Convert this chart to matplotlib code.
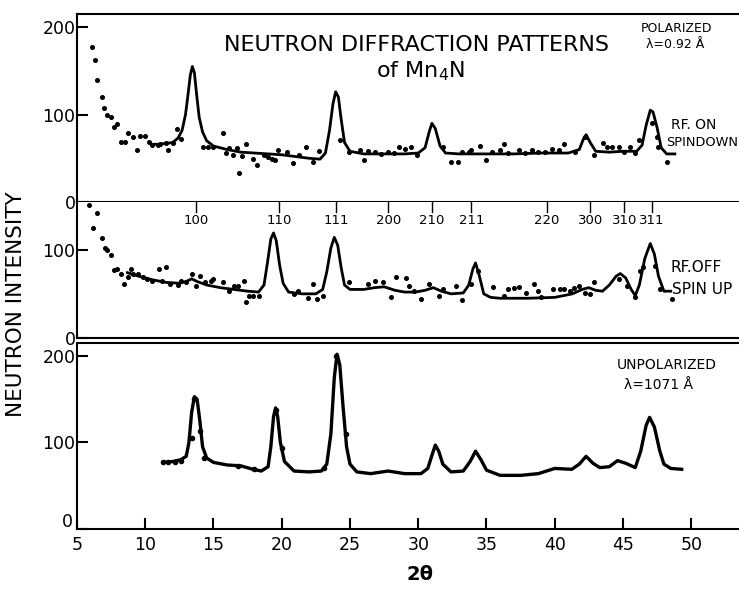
import matplotlib
matplotlib.use('Agg')
from matplotlib import pyplot as plt

# ---- data (2-theta in degrees, intensity in counts) ----

# top panel: polarized, RF on, spin down
ON_CURVE_X = [10.5, 11.0, 11.5, 12.0, 12.4, 12.7, 12.95, 13.15, 13.3, 13.45,
              13.6, 13.75, 13.95, 14.2, 14.5, 15.0, 16.0, 17.0, 18.0, 19.0,
              20.0, 21.0, 22.0, 22.8, 23.2, 23.5, 23.75, 23.95, 24.15, 24.35,
              24.6, 25.0, 26.0, 27.0, 28.0, 29.0, 30.0, 30.5, 30.8, 31.0,
              31.25, 31.6, 32.0, 33.0, 35.0, 37.0, 39.0, 41.0, 41.8, 42.1,
              42.3, 42.6, 43.0, 44.0, 45.0, 46.0, 46.4, 46.7, 47.0, 47.2,
              47.5, 47.8, 48.2, 48.8]
ON_CURVE_Y = [66, 66, 67, 68, 73, 82, 100, 125, 145, 155,
              148, 125, 97, 80, 70, 64, 60, 57, 56, 55,
              54, 52, 50, 49, 56, 82, 112, 126, 120, 95,
              68, 58, 55, 55, 55, 55, 56, 62, 80, 90,
              84, 64, 56, 55, 55, 55, 56, 56, 60, 72,
              77, 68, 58, 57, 58, 58, 65, 88, 105, 103,
              85, 62, 55, 55]
ON_PTS_X = [6.1, 6.3, 6.5, 6.8, 7.0, 7.2, 7.5, 7.7, 7.9, 8.2, 8.5, 8.75, 9.1,
            9.4, 9.6, 10.0, 10.3, 10.5, 10.9, 11.1, 11.5, 11.7, 12.0, 12.3,
            12.6, 14.2, 14.6, 15.0, 15.7, 15.9, 16.1, 16.4, 16.7, 16.9, 17.1,
            17.4, 17.9, 18.2, 18.7, 19.0, 19.3, 19.5, 19.7, 20.4, 20.8, 21.25,
            21.8, 22.3, 22.7, 24.3, 24.9, 25.7, 26.0, 26.3, 26.8, 27.3, 27.8,
            28.2, 28.6, 29.0, 29.5, 29.9, 31.8, 32.4, 32.9, 33.2, 33.7, 33.9,
            34.5, 35.0, 35.4, 36.0, 36.3, 36.6, 37.4, 37.8, 38.3, 38.8, 39.3,
            39.8, 40.3, 40.7, 41.5, 42.2, 42.9, 43.5, 43.8, 44.2, 44.7, 45.1,
            45.5, 45.9, 46.2, 47.1, 47.5, 47.6, 48.2]
ON_PTS_Y = [177, 162, 139, 120, 108, 99, 97, 86, 89, 69, 69, 79, 74,
            59, 75, 75, 69, 65, 65, 66, 67, 60, 67, 84,
            72, 63, 63, 63, 79, 56, 62, 54, 62, 33, 53,
            66, 49, 42, 54, 51, 49, 48, 60, 57, 45, 54,
            63, 46, 58, 71, 57, 60, 48, 58, 57, 55, 57,
            56, 63, 61, 63, 54, 63, 46, 46, 57, 57, 59,
            64, 48, 57, 59, 66, 56, 59, 56, 59, 57, 57,
            61, 59, 66, 57, 74, 54, 67, 63, 63, 63, 57,
            63, 56, 71, 90, 74, 63, 46]

# middle panel: polarized, RF off, spin up
OFF_CURVE_X = [8.7, 9.5, 10.5, 11.5, 12.5, 13.0, 13.4, 13.8, 14.5, 15.5,
               16.5, 17.5, 18.3, 18.7, 18.95, 19.2, 19.4, 19.6, 19.85, 20.1,
               20.5, 21.5, 22.5, 23.0, 23.3, 23.6, 23.85, 24.1, 24.35, 24.6,
               25.0, 26.0, 26.8, 27.5, 28.3, 29.0, 29.8, 30.5, 31.1, 31.7,
               32.4, 33.3, 33.7, 34.0, 34.2, 34.45, 34.8, 35.3, 36.0, 38.0,
               40.0, 41.3, 42.0, 42.5, 43.0, 43.5, 44.0, 44.5, 44.8, 45.2,
               45.6, 45.9, 46.2, 46.6, 47.0, 47.3, 47.6, 48.0, 48.5]
OFF_CURVE_Y = [74, 70, 66, 63, 62, 64, 67, 64, 60, 57,
               55, 53, 52, 60, 85, 112, 119, 110, 82, 62,
               52, 50, 50, 55, 75, 102, 114, 105, 80, 60,
               55, 55, 57, 58, 54, 52, 52, 54, 57, 53,
               50, 51, 60, 78, 85, 72, 50, 46, 45, 45,
               46, 50, 55, 57, 54, 53, 60, 70, 73, 68,
               55, 48, 60, 90, 107, 95, 70, 53, 53]
OFF_PTS_X = [5.9, 6.2, 6.5, 6.8, 7.05, 7.2, 7.5, 7.7, 7.9, 8.2, 8.45, 8.75,
             8.97, 9.1, 9.5, 9.8, 10.1, 10.5, 11.0, 11.25, 11.5, 11.8, 12.4,
             12.6, 13.0, 13.4, 13.7, 14.0, 14.4, 14.8, 15.0, 15.7, 16.1, 16.5,
             16.8, 17.2, 17.4, 17.6, 17.9, 18.3, 20.9, 21.2, 21.9, 22.3, 22.6,
             23.0, 24.9, 26.3, 26.8, 27.4, 28.0, 28.4, 29.1, 29.3, 29.7, 30.2,
             30.8, 31.5, 31.8, 32.8, 33.2, 33.9, 34.4, 35.5, 36.25, 36.6, 37.0,
             37.35, 37.9, 38.5, 38.8, 39.0, 39.9, 40.4, 40.7, 41.1, 41.4, 41.8,
             42.2, 42.6, 42.9, 44.7, 45.3, 45.9, 46.25, 46.5, 47.35, 47.7, 48.6]
OFF_PTS_Y = [151, 125, 141, 113, 102, 100, 94, 77, 78, 73, 61, 69,
             78, 73, 72, 69, 67, 65, 78, 65, 80, 61, 60,
             65, 63, 72, 59, 70, 63, 65, 67, 63, 53, 59,
             59, 64, 41, 47, 48, 47, 50, 53, 45, 61, 44,
             48, 63, 61, 65, 63, 46, 69, 68, 59, 53, 44,
             61, 48, 56, 59, 43, 61, 76, 58, 48, 56, 57,
             58, 51, 61, 53, 46, 55, 55, 55, 53, 57, 59,
             51, 50, 63, 67, 59, 46, 76, 80, 82, 56, 44]

# bottom panel: unpolarized
UN_CURVE_X = [11.3, 12.0, 12.6, 13.0, 13.2, 13.4, 13.6, 13.8, 14.0, 14.2,
              14.5, 15.0, 16.0, 17.0, 17.9, 18.5, 19.0, 19.2, 19.4, 19.55,
              19.7, 19.9, 20.2, 20.9, 22.0, 22.9, 23.3, 23.6, 23.85, 24.05,
              24.25, 24.5, 24.75, 25.0, 25.5, 26.5, 27.8, 29.0, 30.2, 30.7,
              31.0, 31.25, 31.5, 31.8, 32.4, 33.3, 33.8, 34.2, 34.6, 35.0,
              36.0, 37.5, 38.8, 40.0, 41.25, 41.8, 42.3, 42.8, 43.3, 44.0,
              44.6, 45.2, 45.9, 46.3, 46.7, 46.95, 47.3, 47.7, 48.0, 48.5,
              49.3]
UN_CURVE_Y = [77, 78, 80, 84, 100, 135, 153, 150, 125, 95,
              82, 77, 74, 73, 69, 67, 72, 95, 130, 140,
              130, 100, 78, 67, 66, 67, 75, 110, 175, 202,
              190, 140, 95, 75, 66, 64, 67, 64, 64, 70,
              85, 97, 90, 75, 66, 67, 78, 90, 80, 68,
              62, 62, 64, 70, 69, 75, 84, 76, 71, 72,
              79, 76, 71, 90, 120, 129, 118, 90, 75, 70,
              69]
UN_PTS_X = [11.3, 11.7, 12.2, 12.6, 13.45, 13.6, 14.0, 14.3, 16.8, 18.0,
            19.6, 20.0, 23.1, 24.0, 24.7]
UN_PTS_Y = [77, 78, 78, 79, 105, 150, 113, 82, 73, 69,
            138, 94, 71, 200, 110]

HKL_LABELS = ['100', '110', '111', '200', '210', '211', '220', '300', '310', '311']
HKL_POS = [13.7, 19.8, 24.0, 27.8, 31.0, 33.9, 39.4, 42.6, 45.1, 47.1]

X_TICKS = [5, 10, 15, 20, 25, 30, 35, 40, 45, 50]


def style_axes(ax, ylim, yticks):
    ax.set_xlim(5, 53.5)
    ax.set_ylim(*ylim)
    ax.set_yticks(yticks)
    ax.spines['right'].set_visible(False)
    for s in ax.spines.values():
        s.set_linewidth(1.5)
    ax.tick_params(direction='in', length=8, width=1.5, labelsize=12.5)
    ax.tick_params(axis='y', pad=1)
    ax.tick_params(axis='x', pad=5)


def main():

    fig = plt.figure(figsize=(7.39, 5.92), dpi=100)
    W, H = 739.0, 592.0

    ax1 = fig.add_axes([77 / W, 1 - 202 / H, 1 - 77 / W, 188 / H])
    ax2 = fig.add_axes([77 / W, 1 - 338 / H, 1 - 77 / W, 136 / H])
    ax3 = fig.add_axes([77 / W, 1 - 529 / H, 1 - 77 / W, 186 / H])

    style_axes(ax1, (0, 215), [0, 100, 200])
    style_axes(ax2, (0, 154), [0, 100])
    style_axes(ax3, (0, 215), [0, 100, 200])

    for ax in (ax1, ax2):
        ax.set_xticks([])
    ax2.spines['top'].set_visible(False)
    ax3.set_xticks(X_TICKS)
    # the bottom "0" sits a little above its tick so it clears the "5"
    ax3.set_yticklabels(['', '100', '200'])
    ax3.text(-0.006, 0.035, '0', transform=ax3.transAxes, ha='right',
             va='center', fontsize=12.5)

    ax1.plot(ON_CURVE_X, ON_CURVE_Y, color='black', lw=2.0,
             solid_joinstyle='round')
    ax1.plot(ON_PTS_X, ON_PTS_Y, 'o', color='black', ms=2.6)

    ax2.plot(OFF_CURVE_X, OFF_CURVE_Y, color='black', lw=2.0,
             solid_joinstyle='round')
    ax2.plot(OFF_PTS_X, OFF_PTS_Y, 'o', color='black', ms=2.6)

    ax3.plot(UN_CURVE_X, UN_CURVE_Y, color='black', lw=2.4,
             solid_joinstyle='round')
    ax3.plot(UN_PTS_X, UN_PTS_Y, 'o', color='black', ms=3)

    # hkl markers hanging from the top of the middle panel
    trans = ax2.get_xaxis_transform()
    for lab, pos in zip(HKL_LABELS, HKL_POS):
        ax2.plot([pos, pos], [1.0, 0.93], color='black', lw=1.0,
                 transform=trans, clip_on=False)
        ax2.text(pos, 0.865, lab, transform=trans, ha='center', va='center',
                 fontsize=9.5)

    fig.text(416 / W, 1 - 45 / H, 'NEUTRON DIFFRACTION PATTERNS',
             ha='center', va='center', fontsize=16)
    fig.text(420 / W, 1 - 71 / H, 'of Mn$_4$N', ha='center', va='center',
             fontsize=16)
    fig.text(676 / W, 1 - 28 / H, 'POLARIZED', ha='center', va='center',
             fontsize=9)
    fig.text(675 / W, 1 - 45 / H, 'λ=0.92 Å', ha='center', va='center',
             fontsize=9)
    fig.text(671 / W, 1 - 125 / H, 'RF. ON', ha='left', va='center',
             fontsize=10)
    fig.text(666 / W, 1 - 143 / H, 'SPINDOWN', ha='left', va='center',
             fontsize=9.3)
    fig.text(671 / W, 1 - 268 / H, 'RF.OFF', ha='left', va='center',
             fontsize=11)
    fig.text(672 / W, 1 - 290 / H, 'SPIN UP', ha='left', va='center',
             fontsize=11)
    fig.text(667 / W, 1 - 365 / H, 'UNPOLARIZED', ha='center', va='center',
             fontsize=10)
    fig.text(658 / W, 1 - 385 / H, 'λ=1071 Å', ha='center', va='center',
             fontsize=10)

    fig.text(16 / W, 1 - 304 / H, 'NEUTRON INTENSITY', rotation=90,
             ha='center', va='center', fontsize=15.5)
    fig.text(420 / W, 1 - 574 / H, '2θ', ha='center', va='center',
             fontsize=14, fontweight='bold')

    plt.savefig('out.png', dpi=100)


if __name__ == '__main__':

    main()
